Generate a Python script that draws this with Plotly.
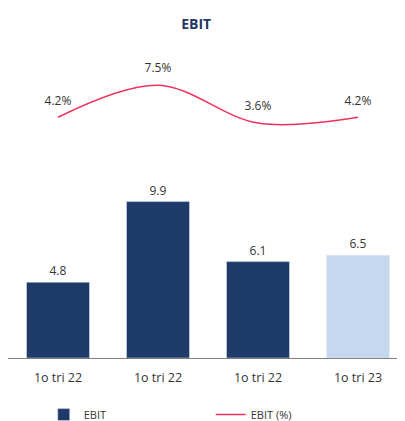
import plotly.graph_objects as go

tick_labels = ["1o tri 22", "1o tri 22", "1o tri 22", "1o tri 23"]
positions = [0, 1, 2, 3]
ebit = [4.8, 9.9, 6.1, 6.5]
ebit_pct = [4.2, 7.5, 3.6, 4.2]
bar_colors = ["#1d3a69", "#1d3a69", "#1d3a69", "#c5d8f0"]

fig = go.Figure()
fig.add_trace(go.Bar(
    x=positions, y=ebit, name="EBIT", marker_color=bar_colors,
    width=0.63, text=[f"{v:.1f}" for v in ebit], textposition="outside",
    textfont=dict(size=12, color="#333333", family="Open Sans"),
    cliponaxis=False, yaxis="y", hoverinfo="skip",
))
fig.add_trace(go.Scatter(
    x=positions, y=ebit_pct, name="EBIT (%)", mode="lines",
    line=dict(color="#f0325a", width=1.5, shape="spline", smoothing=1.0),
    yaxis="y2", cliponaxis=False,
))
fig.add_trace(go.Scatter(
    x=positions, y=ebit_pct, mode="markers+text", showlegend=False,
    marker=dict(size=14, opacity=0, color="#f0325a"),
    text=[f"{v:.1f}%" for v in ebit_pct], textposition="top center",
    textfont=dict(size=12, color="#333333", family="Open Sans"),
    yaxis="y2", cliponaxis=False, hoverinfo="skip",
))

fig.update_layout(
    width=397, height=421,
    margin=dict(l=0, r=0, t=52, b=71, autoexpand=False),
    paper_bgcolor="white", plot_bgcolor="white",
    title=dict(text="<b>EBIT</b>", x=0.474, xanchor="center", y=1 - 16 / 421, yanchor="middle",
               font=dict(size=14, color="#1f3864", family="Open Sans")),
    xaxis=dict(tickvals=positions, ticktext=tick_labels, range=[-0.5, 3.47], automargin=False,
               showline=True, linecolor="#808080", linewidth=1, showgrid=False,
               zeroline=False, ticks="", ticklabelstandoff=8,
               tickfont=dict(size=12.5, color="#333333", family="Open Sans")),
    yaxis=dict(range=[0, 18.86], visible=False, showgrid=False, zeroline=False),
    yaxis2=dict(range=[-20.6, 10.1], overlaying="y", visible=False, showgrid=False, zeroline=False),
    legend=dict(orientation="h", x=0.09, xanchor="left", y=-0.19, yanchor="middle",
                font=dict(size=11, color="#333333", family="Open Sans"),
                entrywidth=122, entrywidthmode="pixels", traceorder="normal"),
    showlegend=True,
)

fig.write_html("out.html")
